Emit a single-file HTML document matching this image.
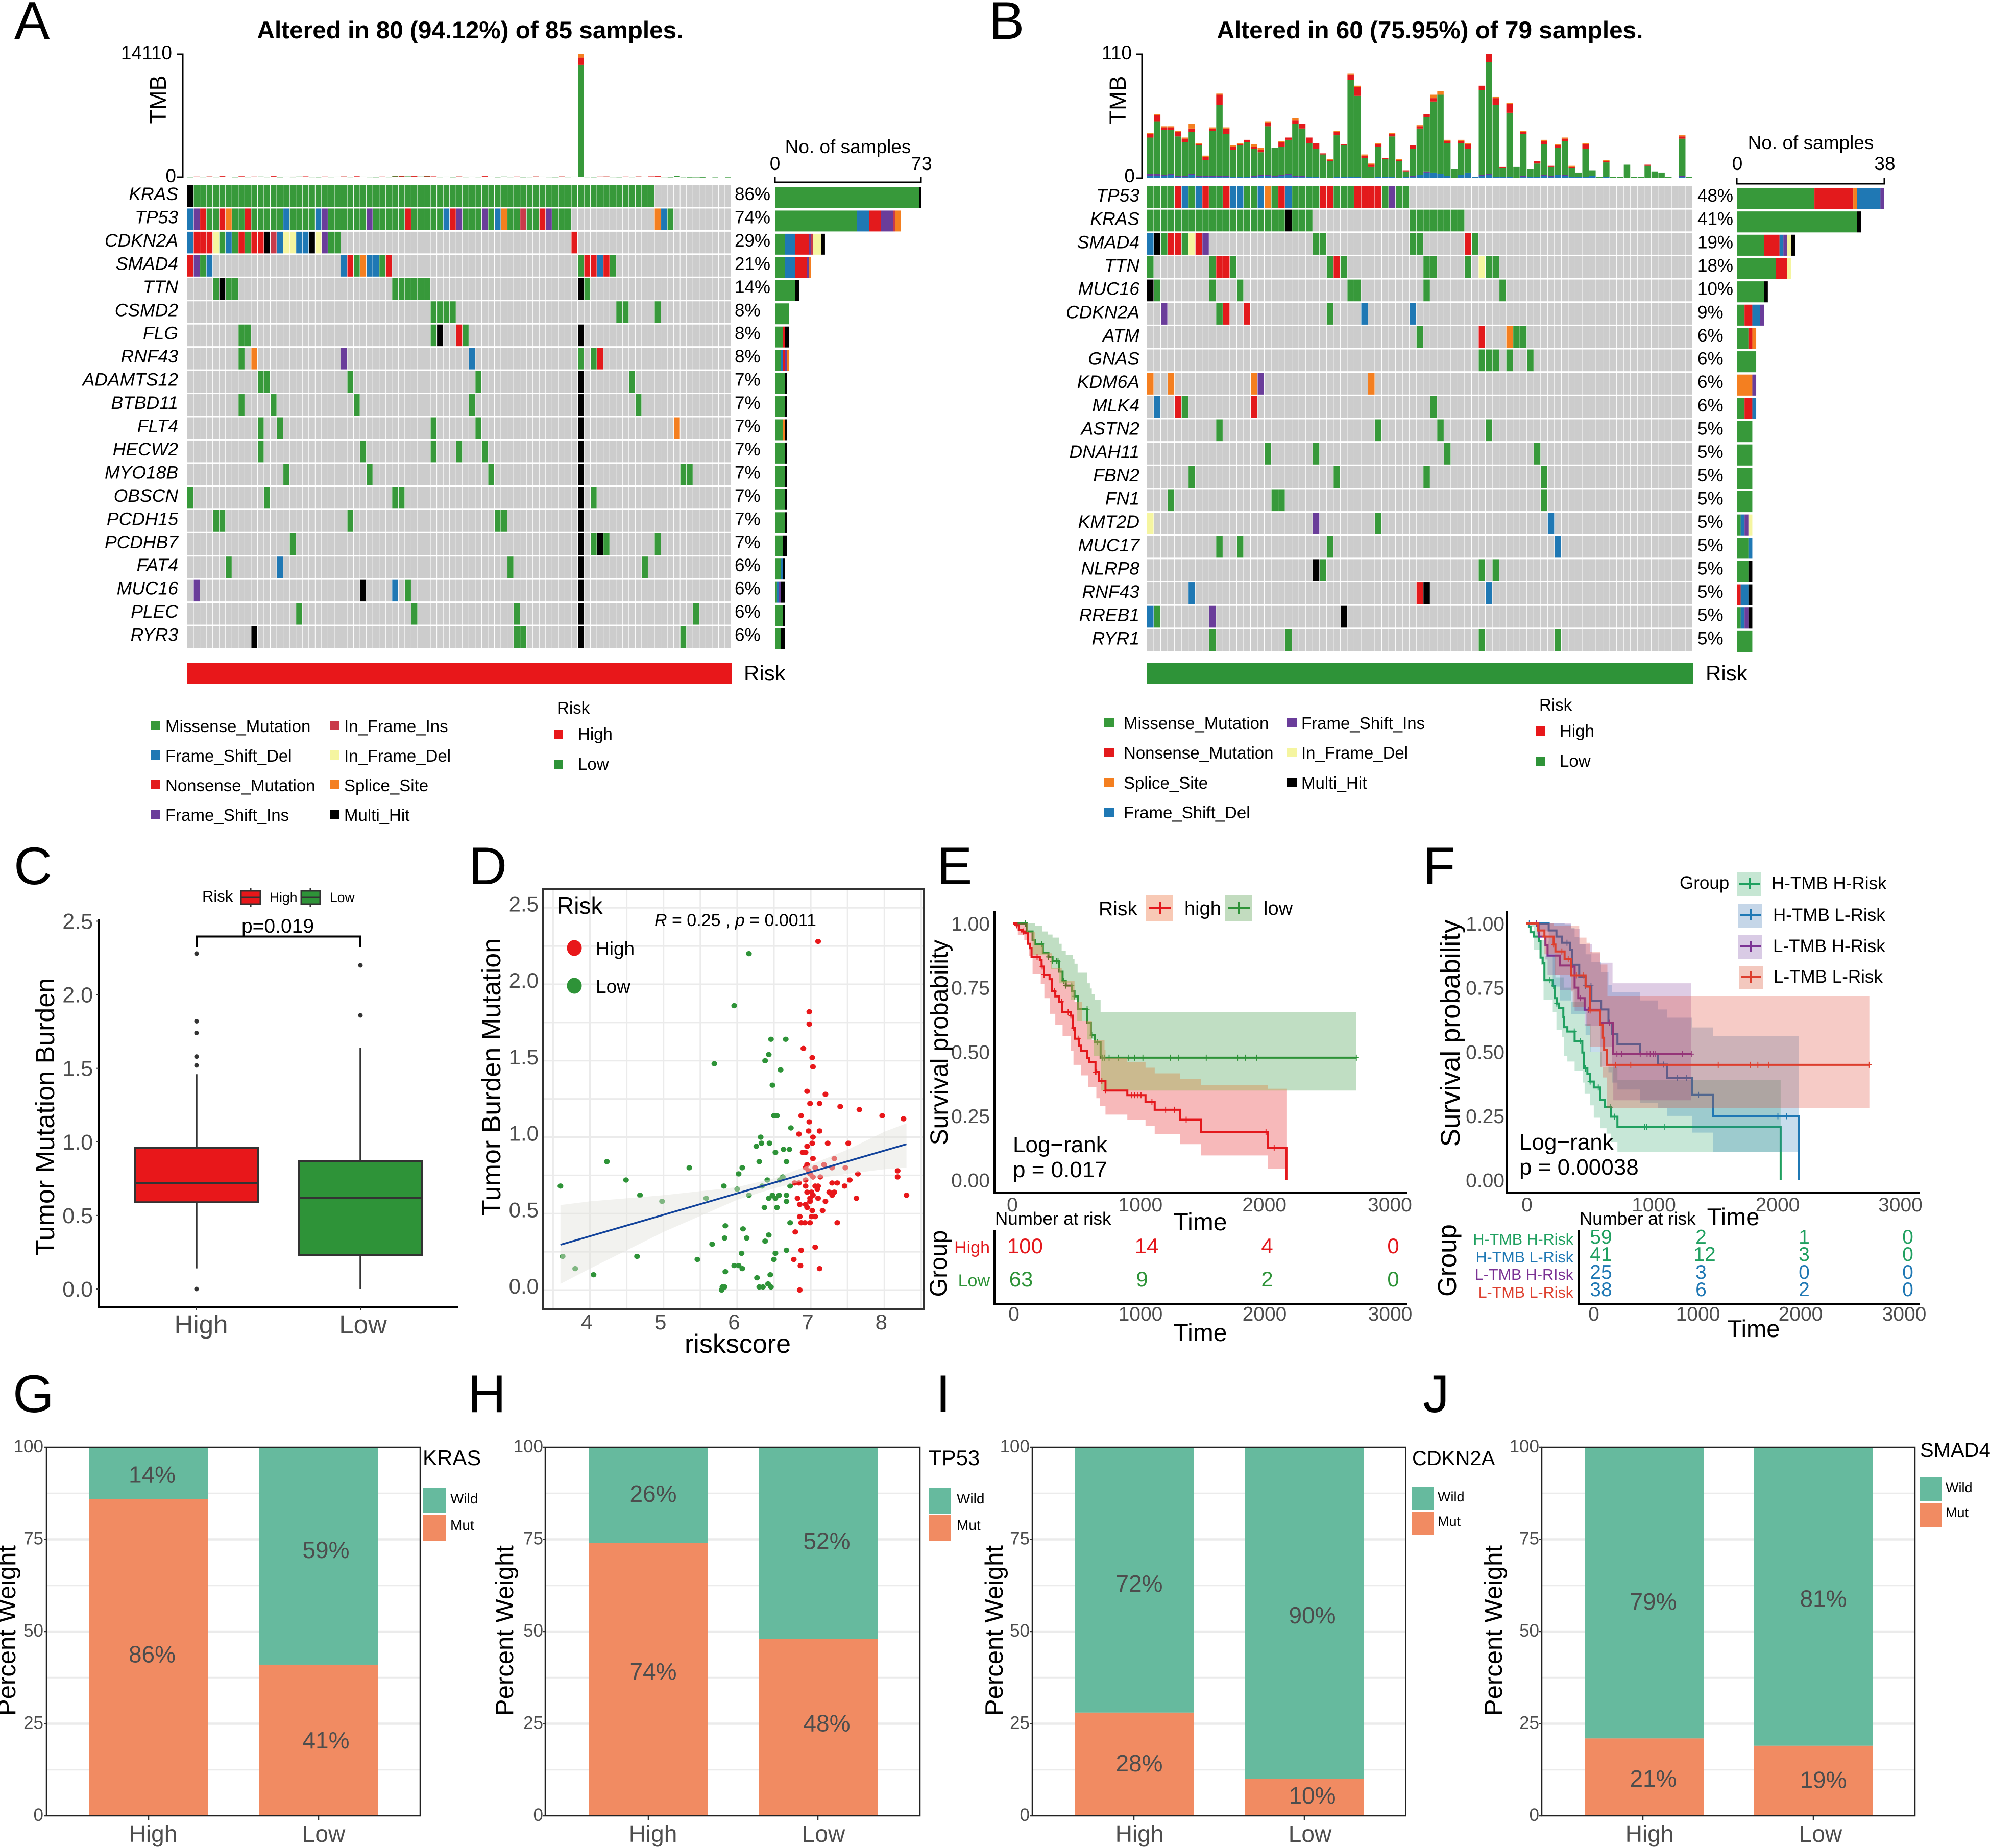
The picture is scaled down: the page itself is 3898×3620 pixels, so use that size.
<!DOCTYPE html>
<html lang="en">
<head>
<meta charset="utf-8">
<title>Mutation landscape, TMB and survival figure</title>
<style>
html,body{margin:0;padding:0;background:#fff}
svg{display:block}
text{font-family:"Liberation Sans",sans-serif;fill:#000}
.letter{font-size:104px}
.title{font-size:47.7px;font-weight:bold;text-anchor:middle}
.s37{font-size:37px}
.s42{font-size:42px}
.s45{font-size:45px}
.leg{font-size:33px}
.tick{fill:#4D4D4D}
.mid{text-anchor:middle}
.end{text-anchor:end}
</style>
</head>
<body>
<svg id="figure" xmlns="http://www.w3.org/2000/svg" width="3898" height="3620" viewBox="0 0 3898 3620">
<rect width="3898" height="3620" fill="#fff"/>

<!-- Panel letters -->
<g>
<text class="letter" x="28" y="76">A</text>
<text class="letter" x="1937" y="76">B</text>
<text class="letter" x="27" y="1732">C</text>
<text class="letter" x="918" y="1732">D</text>
<text class="letter" x="1835" y="1732">E</text>
<text class="letter" x="2787" y="1732">F</text>
<text class="letter" x="25" y="2766">G</text>
<text class="letter" x="916" y="2766">H</text>
<text class="letter" x="1833" y="2766">I</text>
<text class="letter" x="2787" y="2766">J</text>
</g>

<!-- Panel A -->
<g id="panelA">
<text class="title" x="921" y="75">Altered in 80 (94.12%) of 85 samples.</text>
<path d="M346 106H358V347H346" fill="none" stroke="#000" stroke-width="3"/>
<text class="s37 end" x="337" y="116">14110</text>
<text class="s37 end" x="345" y="357">0</text>
<text class="s45 mid" x="325" y="195" transform="rotate(-90 325 195)">TMB</text>
<text class="s37 mid" x="1661" y="300">No. of samples</text>
<text class="s37 mid" x="1518" y="333">0</text>
<text class="s37 mid" x="1805" y="333">73</text>
<path d="M1518 346V357H1804V346" fill="none" stroke="#000" stroke-width="3"/>
<rect x="367" y="1299" width="1066" height="41" fill="#E8171A"/>
<text class="s42" x="1457" y="1333">Risk</text>
<g>
<rect x="295" y="1412" width="18" height="18" fill="#37993A"/><text class="leg" x="324" y="1434">Missense_Mutation</text>
<rect x="295" y="1470" width="18" height="18" fill="#1F78B4"/><text class="leg" x="324" y="1492">Frame_Shift_Del</text>
<rect x="295" y="1528" width="18" height="18" fill="#E31A1C"/><text class="leg" x="324" y="1550">Nonsense_Mutation</text>
<rect x="295" y="1586" width="18" height="18" fill="#6A3D9A"/><text class="leg" x="324" y="1608">Frame_Shift_Ins</text>
<rect x="647" y="1412" width="18" height="18" fill="#C93B4A"/><text class="leg" x="674" y="1434">In_Frame_Ins</text>
<rect x="647" y="1470" width="18" height="18" fill="#F5F5A0"/><text class="leg" x="674" y="1492">In_Frame_Del</text>
<rect x="647" y="1528" width="18" height="18" fill="#F47F20"/><text class="leg" x="674" y="1550">Splice_Site</text>
<rect x="647" y="1586" width="18" height="18" fill="#000"/><text class="leg" x="674" y="1608">Multi_Hit</text>
</g>
<g>
<text class="leg" x="1091" y="1398">Risk</text>
<rect x="1085" y="1429" width="18" height="18" fill="#E8171A"/><text class="leg" x="1132" y="1449">High</text>
<rect x="1085" y="1488" width="18" height="18" fill="#2E9338"/><text class="leg" x="1132" y="1508">Low</text>
</g>
</g>

<!-- Panel B -->
<g id="panelB">
<text class="title" x="2801" y="75">Altered in 60 (75.95%) of 79 samples.</text>
<path d="M2225 106H2237V349H2225" fill="none" stroke="#000" stroke-width="3"/>
<text class="s37 end" x="2217" y="116">110</text>
<text class="s37 end" x="2223" y="357">0</text>
<text class="s45 mid" x="2205" y="196" transform="rotate(-90 2205 196)">TMB</text>
<text class="s37 mid" x="3547" y="292">No. of samples</text>
<text class="s37 mid" x="3403" y="333">0</text>
<text class="s37 mid" x="3692" y="333">38</text>
<path d="M3402 349V360H3691V349" fill="none" stroke="#000" stroke-width="3"/>
<rect x="2247" y="1299" width="1069" height="41" fill="#2E9338"/>
<text class="s42" x="3341" y="1333">Risk</text>
<g>
<rect x="2163" y="1407" width="19" height="18" fill="#37993A"/><text class="leg" x="2201" y="1428">Missense_Mutation</text>
<rect x="2163" y="1465" width="19" height="18" fill="#E31A1C"/><text class="leg" x="2201" y="1486">Nonsense_Mutation</text>
<rect x="2163" y="1524" width="19" height="18" fill="#F47F20"/><text class="leg" x="2201" y="1545">Splice_Site</text>
<rect x="2163" y="1582" width="19" height="18" fill="#1F78B4"/><text class="leg" x="2201" y="1603">Frame_Shift_Del</text>
<rect x="2521" y="1407" width="19" height="18" fill="#6A3D9A"/><text class="leg" x="2549" y="1428">Frame_Shift_Ins</text>
<rect x="2521" y="1465" width="19" height="18" fill="#F5F5A0"/><text class="leg" x="2549" y="1486">In_Frame_Del</text>
<rect x="2521" y="1524" width="19" height="18" fill="#000"/><text class="leg" x="2549" y="1545">Multi_Hit</text>
</g>
<g>
<text class="leg" x="3015" y="1392">Risk</text>
<rect x="3009" y="1423" width="18" height="18" fill="#E8171A"/><text class="leg" x="3055" y="1443">High</text>
<rect x="3009" y="1482" width="18" height="18" fill="#2E9338"/><text class="leg" x="3055" y="1502">Low</text>
</g>
</g>

<!-- Panel C -->
<g id="panelC">
<path d="M193 1801V2560H898" fill="none" stroke="#000" stroke-width="4"/>
<text font-size="52" class="mid" x="106" y="2188" transform="rotate(-90 106 2188)">Tumor Mutation Burden</text>
<text font-size="51" class="tick mid" x="394" y="2612">High</text>
<text font-size="51" class="tick mid" x="711" y="2612">Low</text>
<text font-size="39" class="mid" x="544" y="1827">p=0.019</text>
<path d="M385 1855V1834.5H706V1855" fill="none" stroke="#000" stroke-width="4"/>
<g>
<text font-size="31" x="396" y="1766">Risk</text>
<path d="M491 1739V1776" stroke="#333" stroke-width="3"/>
<rect x="472" y="1745" width="38" height="26" fill="#E8171A" stroke="#333" stroke-width="3"/>
<path d="M472 1758H510" stroke="#333" stroke-width="3"/>
<text font-size="26.5" x="528" y="1767">High</text>
<path d="M608 1739V1776" stroke="#333" stroke-width="3"/>
<rect x="590" y="1745" width="37" height="26" fill="#2E9338" stroke="#333" stroke-width="3"/>
<path d="M590 1758H627" stroke="#333" stroke-width="3"/>
<text font-size="26.5" x="646" y="1767">Low</text>
</g>
<g id="boxMarks"></g>
</g>

<!-- Panel D -->
<g id="panelD">
<g id="scatterGrid"></g>
<g id="scatterMarks"></g>
<rect x="1064" y="1742" width="746" height="823" fill="none" stroke="#333" stroke-width="4"/>
<text font-size="52" class="mid" x="980" y="2110" transform="rotate(-90 980 2110)">Tumor Burden Mutation</text>
<text font-size="52" class="mid" x="1445" y="2650">riskscore</text>
<text font-size="46" x="1091" y="1790">Risk</text>
<ellipse cx="1125" cy="1857" rx="14.5" ry="15.5" fill="#E8171A"/>
<text font-size="37" x="1167" y="1871">High</text>
<ellipse cx="1125" cy="1931" rx="14.5" ry="15.5" fill="#2E9338"/>
<text font-size="37" x="1167" y="1945">Low</text>
<text font-size="34" x="1282" y="1814"><tspan font-style="italic">R</tspan> = 0.25 , <tspan font-style="italic">p</tspan> = 0.0011</text>
</g>

<!-- Panel E -->
<g id="panelE">
<g id="kmE"></g>
<path d="M1948 1785V2337H2757" fill="none" stroke="#000" stroke-width="4"/>
<text font-size="48" class="mid" x="1856" y="2042" transform="rotate(-90 1856 2042)">Survival probability</text>
<text font-size="48" class="mid" x="2351" y="2410">Time</text>
<text font-size="44" x="1984" y="2257">Log−rank</text>
<text font-size="44" x="1984" y="2306">p = 0.017</text>
<g>
<text font-size="39" x="2152" y="1793">Risk</text>
<rect x="2245" y="1753" width="53" height="52" fill="#F8C9B5"/>
<path d="M2250 1778H2294M2272 1766V1790" stroke="#E4181C" stroke-width="4"/>
<text font-size="38" x="2320" y="1792">high</text>
<rect x="2400" y="1753" width="52" height="52" fill="#C2DCBF"/>
<path d="M2405 1778H2449M2427 1766V1790" stroke="#2E9338" stroke-width="4"/>
<text font-size="38" x="2475" y="1792">low</text>
</g>
<g>
<text font-size="35" x="1949" y="2399">Number at risk</text>
<path d="M1948 2410V2554.5H2757" fill="none" stroke="#000" stroke-width="4"/>
<text font-size="47" class="mid" x="1854" y="2475" transform="rotate(-90 1854 2475)">Group</text>
<text font-size="34" class="end" x="1939" y="2455" style="fill:#E4181C">High</text>
<text font-size="34" class="end" x="1939" y="2520" style="fill:#2E9338">Low</text>
<g font-size="42">
<text class="mid" x="2008" y="2455" style="fill:#E4181C">100</text>
<text class="mid" x="2246" y="2455" style="fill:#E4181C">14</text>
<text class="mid" x="2482" y="2455" style="fill:#E4181C">4</text>
<text class="mid" x="2729" y="2455" style="fill:#E4181C">0</text>
<text class="mid" x="2000" y="2520" style="fill:#2E9338">63</text>
<text class="mid" x="2237" y="2520" style="fill:#2E9338">9</text>
<text class="mid" x="2482" y="2520" style="fill:#2E9338">2</text>
<text class="mid" x="2729" y="2520" style="fill:#2E9338">0</text>
</g>
<g font-size="39">
<text class="tick mid" x="1986" y="2587">0</text>
<text class="tick mid" x="2234" y="2587">1000</text>
<text class="tick mid" x="2477" y="2587">2000</text>
<text class="tick mid" x="2723" y="2587">3000</text>
</g>
<text font-size="48" class="mid" x="2351" y="2627">Time</text>
</g>
</g>

<!-- Panel F -->
<g id="panelF">
<g id="kmF"></g>
<path d="M2952 1785V2337H3760" fill="none" stroke="#000" stroke-width="4"/>
<text font-size="53" class="mid" x="2859" y="2024" transform="rotate(-90 2859 2024)">Survival probability</text>
<text font-size="47" class="mid" x="3395" y="2400">Time</text>
<text font-size="44" x="2976" y="2252">Log−rank</text>
<text font-size="44" x="2976" y="2301">p = 0.00038</text>
<g>
<text font-size="35" x="3290" y="1741">Group</text>
<rect x="3402" y="1709" width="48" height="46" fill="#C6E6D3"/>
<path d="M3407 1731H3447M3427 1720V1742" stroke="#20A060" stroke-width="4"/>
<text font-size="35" x="3470" y="1742">H-TMB H-Risk</text>
<rect x="3405" y="1770" width="47" height="47" fill="#C5D6E8"/>
<path d="M3409 1792H3449M3429 1781V1803" stroke="#1F78B4" stroke-width="4"/>
<text font-size="35" x="3473" y="1804">H-TMB L-Risk</text>
<rect x="3405" y="1831" width="47" height="47" fill="#D9CBE5"/>
<path d="M3409 1854H3449M3429 1843V1865" stroke="#7B3294" stroke-width="4"/>
<text font-size="35" x="3473" y="1865">L-TMB H-Risk</text>
<rect x="3406" y="1892" width="47" height="46" fill="#F3C8BE"/>
<path d="M3410 1914H3450M3430 1903V1925" stroke="#DD3F2E" stroke-width="4"/>
<text font-size="35" x="3474" y="1925">L-TMB L-Risk</text>
</g>
<g>
<text font-size="35" x="3094" y="2399">Number at risk</text>
<path d="M3092 2410V2554.5H3760" fill="none" stroke="#000" stroke-width="4"/>
<text font-size="51" class="mid" x="2852" y="2469" transform="rotate(-90 2852 2469)">Group</text>
<text font-size="30.5" class="end" x="3082" y="2438" style="fill:#20A060">H-TMB H-Risk</text>
<text font-size="30.5" class="end" x="3082" y="2473" style="fill:#1F78B4">H-TMB L-Risk</text>
<text font-size="30.5" class="end" x="3082" y="2507" style="fill:#7B3294">L-TMB H-RIsk</text>
<text font-size="30.5" class="end" x="3082" y="2542" style="fill:#DD3F2E">L-TMB L-Risk</text>
<g font-size="39">
<text class="mid" x="3136" y="2436" style="fill:#20A060">59</text>
<text class="mid" x="3332" y="2436" style="fill:#20A060">2</text>
<text class="mid" x="3534" y="2436" style="fill:#20A060">1</text>
<text class="mid" x="3737" y="2436" style="fill:#20A060">0</text>
<text class="mid" x="3136" y="2470" style="fill:#20A060">41</text>
<text class="mid" x="3339" y="2470" style="fill:#20A060">12</text>
<text class="mid" x="3534" y="2470" style="fill:#20A060">3</text>
<text class="mid" x="3737" y="2470" style="fill:#20A060">0</text>
<text class="mid" x="3136" y="2505" style="fill:#1F78B4">25</text>
<text class="mid" x="3332" y="2505" style="fill:#1F78B4">3</text>
<text class="mid" x="3534" y="2505" style="fill:#1F78B4">0</text>
<text class="mid" x="3737" y="2505" style="fill:#1F78B4">0</text>
<text class="mid" x="3136" y="2539" style="fill:#1F78B4">38</text>
<text class="mid" x="3332" y="2539" style="fill:#1F78B4">6</text>
<text class="mid" x="3534" y="2539" style="fill:#1F78B4">2</text>
<text class="mid" x="3737" y="2539" style="fill:#1F78B4">0</text>
</g>
<g font-size="39">
<text class="tick mid" x="3122" y="2587">0</text>
<text class="tick mid" x="3326" y="2587">1000</text>
<text class="tick mid" x="3527" y="2587">2000</text>
<text class="tick mid" x="3730" y="2587">3000</text>
</g>
<text font-size="47" class="mid" x="3435" y="2619">Time</text>
</g>
</g>

<!-- Panels G-J -->
<g id="panelsBars"></g>

<script>
/* ---------- Panel A data ---------- */
const oncoAGenes = ['KRAS','TP53','CDKN2A','SMAD4','TTN','CSMD2','FLG','RNF43','ADAMTS12','BTBD11','FLT4','HECW2','MYO18B','OBSCN','PCDH15','PCDHB7','FAT4','MUC16','PLEC','RYR3'];
const oncoAPercent = [86,74,29,21,14,8,8,8,7,7,7,7,7,7,7,7,6,6,6,6];
const aKRAS = ['H0','M1-72'];
const aTP53 = ['D0','I1','N2','M3-4','N5','S6','M7-8','N9','M10-14','D15','M16-19','D20','I21','M22-27','I28','M29-33','N34','M35-39','D40','N41','I42','M43-45','I46','M47','D48','S49','M50-51','F52','M53-54','N55','I56','M57-59','S73','D74','M75'];
const aCDKN2A = ['D0','N1-3','E4','M5','D6','M7','N8','M9','N10-11','H12','F13','D14','E15-16','D17-18','H19','E20','I21','M22-23','N60'];
const aSMAD4 = ['N0','I1','M2','D3','D24','N25','M26','S27','D28-29','M30','N31','M61','N62-63','D64','N65','M66'];
const aTTN = ['M4','H5','M6-7','M32-37','H61','M62'];
const aCSMD2 = ['M38-41','M67-68','M73'];
const aFLG = ['M8-9','M38','H39','N42','M43','H61'];
const aRNF43 = ['M8','S10','I24','D44','M61','M63','N64'];
const aADAMTS12 = ['M11-12','M25','M45','H61','M69'];
const aBTBD11 = ['M8','M13','M26','M44','H61','M70'];
const aFLT4 = ['M11','M14','M38','M45','H61','S76'];
const aHECW2 = ['M11','M27','M38','M42','M46','H61'];
const aMYO18B = ['M15','M28','M47','H61','M77-78'];
const aOBSCN = ['M0','M12','M32-33','H61','M63'];
const aPCDH15 = ['M4-5','M25','M48-49','H61'];
const aPCDHB7 = ['M16','H61','M63','H64','M65','M73'];
const aFAT4 = ['M6','D14','M50','H61','M71'];
const aMUC16 = ['I1','H27','D32','M34','H61'];
const aPLEC = ['M17','M35','M51','H61','M79'];
const aRYR3 = ['H10','M51-52','H61','M77'];
const oncoARows = [aKRAS,aTP53,aCDKN2A,aSMAD4,aTTN,aCSMD2,aFLG,aRNF43,aADAMTS12,aBTBD11,aFLT4,aHECW2,aMYO18B,aOBSCN,aPCDH15,aPCDHB7,aFAT4,aMUC16,aPLEC,aRYR3];
const tmbAMissense = [40,60,50,70,50,90,60,40,80,50,60,70,50,90,40,60,50,70,80,50,40,60,50,60,70,50,80,60,50,40,60,50,130,110,90,100,70,120,80,50,60,40,70,50,60,50,90,60,40,70,50,60,40,50,70,60,50,40,70,50,60,12887,50,40,60,70,50,40,60,50,70,60,80,90,50,30,120,40,20,30,10,0,30,0,20];
const tmbANonsense = [0,10,0,10,0,20,0,0,20,0,10,0,0,20,0,0,10,0,10,0,0,10,0,0,10,0,20,0,0,0,10,0,30,20,0,10,0,20,10,0,0,0,10,0,0,0,20,0,0,0,0,10,0,0,10,0,0,0,10,0,0,835,0,0,10,10,0,0,10,0,10,0,10,20,0,0,0,0,0,0,0,0,0,0,0];
const tmbASplice = [0,0,0,0,0,0,0,0,0,0,0,0,0,0,0,0,0,0,0,0,0,0,0,0,0,0,0,0,0,0,0,0,0,0,0,0,0,0,0,0,0,0,0,0,0,0,0,0,0,0,0,0,0,0,0,0,0,0,0,0,0,388,0,0,0,0,0,0,0,0,0,0,0,0,0,0,0,0,0,0,0,0,0,0,0];

/* ---------- Panel B data ---------- */
const oncoBGenes = ['TP53','KRAS','SMAD4','TTN','MUC16','CDKN2A','ATM','GNAS','KDM6A','MLK4','ASTN2','DNAH11','FBN2','FN1','KMT2D','MUC17','NLRP8','RNF43','RREB1','RYR1'];
const oncoBPercent = [48,41,19,18,10,9,6,6,6,6,5,5,5,5,5,5,5,5,5,5];
const bTP53 = ['M0-3','N4','D5','M6','D7','N8','M9-10','N11','D12-13','M14-15','D16','S17','M18','N19','D20','M21-24','N25-26','M27-29','N30-33','M34','I35','M36-37'];
const bKRAS = ['M0-19','H20','M21-23','M38-45'];
const bSMAD4 = ['D0','H1','M2','N3-4','M5','E6','N7','I8','M24-25','M38-39','N46','M47'];
const bTTN = ['M0','M9','N10-11','M12','M26','N27','M28','M40-41','M46','E48','M49-50'];
const bMUC16 = ['H0','M1','M9','M13','M29-30','M40','M51'];
const bCDKN2A = ['I2','M10','N11','N14','M26','D31','D38'];
const bATM = ['M39','N48','S52','M53-54'];
const bGNAS = ['M48-50','M52','M55'];
const bKDM6A = ['S0','S3','S15','I16','S32'];
const bMLK4 = ['D1','N4','M5','N15','M41'];
const bASTN2 = ['M10','M33','M42','M49'];
const bDNAH11 = ['M17','M24','M43','M56'];
const bFBN2 = ['M6','M27','M40','M57'];
const bFN1 = ['M3','M18-19','M57'];
const bKMT2D = ['E0','I24','M33','D58'];
const bMUC17 = ['M10','M13','M26','D59'];
const bNLRP8 = ['H24','M25','M48','M50'];
const bRNF43 = ['D6','N39','H40','D49'];
const bRREB1 = ['D0','M1','I9','H28'];
const bRYR1 = ['M9','M20','M48','M59'];
const oncoBRows = [bTP53,bKRAS,bSMAD4,bTTN,bMUC16,bCDKN2A,bATM,bGNAS,bKDM6A,bMLK4,bASTN2,bDNAH11,bFBN2,bFN1,bKMT2D,bMUC17,bNLRP8,bRNF43,bRREB1,bRYR1];
const tmbBDel = [2,2,2,3,1,1,3,1,1,1,1,1,1,1,1,1,2,2,1,2,3,1,1,1,1,0,0,1,1,1,1,0,0,1,1,1,0,1,1,3,5,5,4,2,0,3,5,1,2,3,1,1,1,0,1,1,1,2,1,3,2,1,1,1,2,0,1,0,0,0,0,0,0,0,0,0,0,1,0];
const tmbBIns = [2,2,1,1,1,1,1,1,1,1,1,1,0,0,0,1,1,1,1,1,1,1,1,0,0,0,0,0,0,0,0,0,0,0,0,0,0,0,1,0,1,0,0,0,0,0,0,0,1,1,0,0,0,0,1,0,0,1,1,0,1,0,0,0,0,0,0,0,0,0,0,0,0,0,0,0,0,1,0];
const tmbBMissense = [32,46,40,39,35,30,37,27,14,40,63,37,24,28,31,24,20,43,25,25,30,46,42,30,25,21,15,37,28,86,72,18,10,27,16,36,15,5,24,41,48,63,70,29,8,28,21,0,75,99,64,8,57,10,37,7,12,27,8,24,30,8,4,25,5,1,13,1,1,12,1,1,11,6,5,1,0,33,1];
const tmbBNonsense = [3,6,2,2,4,3,3,1,3,2,9,5,3,1,2,2,2,3,0,4,2,3,4,5,5,1,1,3,1,5,8,2,2,2,1,2,1,1,3,2,3,3,0,2,0,2,4,0,4,7,6,1,8,0,2,0,2,3,1,2,2,1,0,4,0,0,1,0,0,0,0,0,1,0,0,0,0,2,0];
const tmbBSplice = [1,1,1,1,1,1,4,1,1,1,1,1,1,1,0,2,2,1,0,1,0,2,0,0,0,0,1,1,0,1,1,1,1,1,0,1,1,0,0,1,0,3,3,1,0,1,1,0,0,0,1,0,1,0,1,0,0,1,0,1,1,1,0,1,0,0,1,0,0,0,0,0,0,0,0,0,0,1,0];

/* ---------- Panel C data ---------- */
const boxCategories = ['High','Low'];
const boxQ1 = [0.59,0.23];
const boxMedian = [0.72,0.62];
const boxQ3 = [0.96,0.87];
const boxWhiskerLow = [0.14,0.0];
const boxWhiskerHigh = [1.46,1.64];
const boxOutliersHigh = [2.28,1.82,1.74,1.58,1.52,0.0];
const boxOutliersLow = [2.20,1.86];
const boxTicks = ['0.0','0.5','1.0','1.5','2.0','2.5'];

/* ---------- Panel D data ---------- */
const scatterLowX = [3.60,3.63,3.80,4.05,4.23,4.49,4.64,4.68,4.98,5.35,5.46,5.58,5.69,5.66,5.82,5.84,5.83,5.84,5.79,5.80,5.83,5.96,5.96,6.02,6.00,6.02,6.07,6.08,6.13,6.06,6.07,6.16,6.16,6.26,6.33,6.32,6.30,6.34,6.27,6.30,6.35,6.38,6.37,6.42,6.45,6.43,6.46,6.43,6.41,6.44,6.46,6.43,6.38,6.59,6.48,6.66,6.50,6.54,6.73,6.52,6.63,6.71,6.67,6.62,6.58,6.72,6.48,6.52,6.57,6.67,6.67,6.54,6.72,6.67,6.52,6.50];
const scatterLowY = [.68,.22,.14,.10,.84,.72,.22,.62,.58,.80,.20,.60,1.48,.30,.68,.42,.34,.12,0,.02,.02,1.86,.16,.16,.66,.76,.80,.40,.34,.24,.14,2.20,.62,.94,.96,1.00,.84,.68,.08,.02,.02,.32,.54,.04,.10,.36,.02,.60,.72,.96,1.64,1.54,1.50,1.44,1.34,1.64,1.14,1.14,1.06,.90,.92,.92,.84,.74,.72,.68,.62,.60,.62,.62,.58,.54,.44,.26,.24,.20];
const scatterHighX = [7.10,6.98,6.98,6.90,7.02,7.03,6.95,7.20,6.99,7.12,7.40,7.66,6.87,7.97,8.26,6.98,6.97,7.12,6.84,7.03,7.02,7.23,7.51,6.95,6.89,6.93,7.03,7.32,7.18,6.95,6.93,7.06,7.29,7.47,8.18,6.97,6.99,7.64,7.03,7.13,8.18,7.53,6.93,6.78,6.84,7.29,7.36,6.93,7.06,7.10,7.46,7.09,6.95,7.01,7.25,7.32,7.03,7.29,8.30,6.82,6.99,7.10,7.62,6.99,7.20,6.85,6.93,6.95,7.02,7.16,6.85,7.01,7.06,6.87,6.92,6.99,7.36,6.79,7.06,6.87,6.77,6.86,7.12,6.85];
const scatterHighY = [2.28,1.82,1.74,1.58,1.52,1.46,1.30,1.28,1.22,1.22,1.20,1.18,1.14,1.14,1.12,1.10,1.04,1.04,1.02,1.00,.96,.96,.96,.94,.90,.90,.86,.86,.82,.82,.80,.80,.80,.80,.78,.78,.76,.76,.74,.74,.74,.72,.72,.70,.70,.70,.70,.68,.68,.68,.68,.66,.64,.64,.64,.64,.62,.62,.62,.60,.60,.60,.60,.58,.58,.56,.56,.54,.52,.52,.48,.48,.48,.44,.44,.44,.44,.38,.28,.26,.20,.16,.14,0];
const regressionX = [3.6,8.3];
const regressionY = [0.296,0.954];
const ciX = [3.6,4,5,6,6.5,7,7.5,8,8.3];
const ciUpper = [.556,.58,.62,.673,.73,.82,.918,1.035,1.09];
const ciLower = [.04,.14,.38,.59,.665,.725,.76,.79,.80];
const scatterXTicks = ['4','5','6','7','8'];
const scatterYTicks = ['0.0','0.5','1.0','1.5','2.0','2.5'];

/* ---------- Panel E data ---------- */
const kmEHighT = [0,26,43,65,94,116,131,145,211,225,244,288,305,334,363,390,458,472,491,523,540,588,603,654,683,734,908,1053,1126,1330,1497,2027,2176];
const kmEHighS = [1,.993,.976,.969,.962,.921,.904,.870,.858,.832,.801,.783,.736,.716,.695,.654,.641,.593,.551,.524,.503,.476,.459,.421,.387,.349,.331,.305,.274,.235,.187,.125,0];
const kmEHighCensor = [26,80,189,230,244,327,385,436,458,480,516,654,664,705,734,944,966,988,1017,1104,1213,1283,1377,2013,2078];
const kmELowT = [0,109,153,174,235,279,312,366,392,418,468,487,516,589,618,651,695,2733];
const kmELowS = [1,.969,.935,.92,.886,.87,.853,.812,.777,.758,.736,.716,.666,.613,.565,.538,.477,.477];
const kmELowCensor = [94,225,279,312,342,356,400,418,465,487,588,625,668,712,727,763,836,915,966,1032,1252,1318,1537,1787,1848,1937,2733];
const ciEHighUpT = [0,116,174,240,305,385,487,545,625,726,734,908,1053,1126,1330,1497,2027,2176];
const ciEHighUp = [1,.966,.916,.884,.826,.777,.695,.62,.545,.507,.476,.459,.438,.416,.394,.370,.356,.356];
const ciEHighLoT = [0,36,87,124,153,218,247,291,334,392,458,479,538,596,661,690,734,908,1053,1126,1330,1497,2027,2176];
const ciEHighLo = [1,.956,.935,.873,.805,.764,.709,.648,.606,.562,.503,.449,.408,.363,.319,.288,.255,.236,.211,.18,.14,.096,.043,.043];
const ciELowUpT = [0,109,174,230,273,312,363,385,418,472,487,512,588,610,625,650,695,2733];
const ciELowUp = [1,1,.99,.969,.957,.945,.921,.894,.877,.861,.843,.808,.767,.747,.724,.702,.654,.654];
const ciELowLoT = [0,109,153,298,363,458,509,588,639,697,2733];
const ciELowLo = [1,.962,.877,.822,.767,.702,.62,.548,.483,.349,.347];
const kmYTicks = ['0.00','0.25','0.50','0.75','1.00'];
const kmXTicks = ['0','1000','2000','3000'];

/* ---------- Panel F data ---------- */
const kmFHHT = [0,24,36,61,104,116,133,147,213,230,245,263,297,303,329,387,448,462,488,510,539,589,628,676,727,2024];
const kmFHHS = [1,.986,.966,.949,.932,.867,.846,.779,.757,.709,.688,.671,.634,.596,.579,.541,.497,.435,.414,.384,.361,.312,.284,.247,.207,0];
const kmFHHCensor = [191,220,245,384,430,474,510,575,669,705,945,959,1104];
const kmFHLT = [0,181,242,285,350,365,423,474,520,597,655,684,727,908,1050,1123,1321,1488,2169];
const kmFHLS = [1,.973,.949,.925,.897,.839,.791,.757,.699,.665,.613,.569,.53,.491,.45,.399,.332,.249,0];
const kmFHLCensor = [27,82,326,372,474,517,597,665,698,1094,1205,1274,1372,2002,2072];
const kmFLHT = [0,100,104,155,172,271,358,387,415,466,589,691,1314];
const kmFLHS = [1,.962,.949,.916,.875,.836,.832,.75,.709,.664,.613,.491,.491];
const kmFLHCensor = [82,430,495,665,723,759,908,963,988,1013,1031,1244,1314];
const kmFLLT = [0,97,147,220,234,307,358,474,510,589,611,621,643,2729];
const kmFLLS = [1,.973,.949,.918,.891,.861,.798,.754,.661,.606,.555,.507,.449,.449];
const kmFLLCensor = [147,220,285,336,401,459,510,713,833,1528,1782,1843,1927,2729];
const ciFHHUpT = [0,111,155,234,300,358,466,514,604,727,2024];
const ciFHHUp = [1,.935,.873,.79,.75,.695,.61,.50,.44,.39,.39];
const ciFHHLoT = [0,27,64,119,140,213,242,285,303,329,387,452,466,510,539,589,640,676,727,2024];
const ciFHHLo = [1,.988,.897,.839,.702,.654,.586,.558,.483,.462,.425,.38,.336,.291,.243,.202,.181,.147,.109,.109];
const ciFHLUpT = [0,181,307,358,387,423,474,520,597,655,684,908,1050,1123,1321,1488,2169];
const ciFHLUp = [1,1,.997,.983,.948,.92,.88,.85,.81,.76,.733,.70,.665,.633,.595,.562,.562];
const ciFHLLoT = [0,97,181,176,213,271,358,474,510,589,655,684,727,908,1050,1123,1321,1488,2169];
const ciFHLLo = [1,.97,.93,.873,.754,.70,.647,.565,.50,.442,.42,.38,.353,.30,.281,.25,.185,.11,.11];
const ciFLHUpT = [0,358,430,524,589,688,1314];
const ciFLHUp = [1,.98,.92,.884,.847,.767,.767];
const ciFLHLoT = [0,104,155,172,271,387,466,589,684,694,1314];
const ciFLHLo = [1,.95,.86,.80,.74,.66,.60,.52,.45,.311,.311];
const ciFLLUpT = [0,220,423,481,510,589,647,2729];
const ciFLLUp = [1,.99,.945,.925,.89,.84,.716,.716];
const ciFLLLoT = [0,97,147,227,358,372,481,510,589,611,643,2729];
const ciFLLLo = [1,.95,.88,.80,.735,.675,.60,.52,.44,.40,.28,.28];

/* ---------- Panels G-J data ---------- */
const barGenes = ['KRAS','TP53','CDKN2A','SMAD4'];
const barHighMut = [86,74,28,21];
const barLowMut = [41,48,10,19];
const barCategories = ['High','Low'];
const barSeriesNames = ['Wild','Mut'];
const barYTicks = ['0','25','50','75','100'];

/* ---------- Helpers ---------- */
const NS = 'http://www.w3.org/2000/svg';
const MUT_COLORS = {M:'#37993A',D:'#1F78B4',N:'#E31A1C',I:'#6A3D9A',F:'#C93B4A',E:'#F5F5A0',S:'#F47F20',H:'#000000'};
function mk(tag, attrs, parent) {
  const el = document.createElementNS(NS, tag);
  for (const k in attrs) el.setAttribute(k, attrs[k]);
  parent.appendChild(el);
  return el;
}
function expandRow(row) {
  const out = {};
  row.forEach(function (tok) {
    const type = tok[0];
    const parts = tok.slice(1).split('-').map(Number);
    const end = parts.length > 1 ? parts[1] : parts[0];
    for (let i = parts[0]; i <= end; i++) out[i] = type;
  });
  return out;
}

/* ---------- Oncoplots ---------- */
function drawOnco(panel, genes, percents, rows, frame, order) {
  const parent = document.getElementById(panel);
  const w = (frame.right - frame.left) / frame.n;
  const gg = mk('g', {}, parent);
  
  
  const gb = mk('g', {}, parent);
  
  
  genes.forEach(function (gene, r) {
    const top = frame.top + r * frame.pitch;
    const cells = expandRow(rows[r]);
    for (let i = 0; i < frame.n; i++) {
      const cell = mk('rect', {x: (frame.left + i * w).toFixed(2), y: top.toFixed(2), width: (w - 1).toFixed(2), height: (frame.pitch - 3).toFixed(2), fill: cells[i] ? MUT_COLORS[cells[i]] : '#CCCCCC'}, gg);
      
      
    }
    const label = mk('text', {x: frame.geneX, y: (top + frame.textDy).toFixed(1), 'text-anchor': 'end', 'font-size': 35.5, 'font-style': 'italic'}, parent);
    label.textContent = gene;
    
    
    const pct = mk('text', {x: frame.pctX, y: (top + frame.textDy).toFixed(1), 'font-size': 35}, parent);
    pct.textContent = percents[r] + '%';
    
    
    const counts = {};
    Object.keys(cells).forEach(function (k) { counts[cells[k]] = (counts[cells[k]] || 0) + 1; });
    let bx = frame.barLeft;
    order.forEach(function (t) {
      if (!counts[t]) return;
      const bw = counts[t] * frame.barUnit;
      const seg = mk('rect', {x: bx.toFixed(2), y: (top + frame.barDy).toFixed(2), width: bw.toFixed(2), height: (frame.pitch - 4.5).toFixed(2), fill: MUT_COLORS[t]}, gb);
      
      
      bx += bw;
    });
  });
}
function drawTmb(panel, left, right, n, y0, yMax, maxVal, series) {
  const parent = document.getElementById(panel);
  const g = mk('g', {}, parent);
  
  
  const w = (right - left) / n;
  const scale = (y0 - yMax) / maxVal;
  for (let i = 0; i < n; i++) {
    let base = 0;
    series.forEach(function (s) {
      const v = s.values[i];
      if (!v) return;
      const seg = mk('rect', {x: (left + i * w).toFixed(2), y: (y0 - (base + v) * scale).toFixed(2), width: (w - 1).toFixed(2), height: Math.max(v * scale, 1).toFixed(2), fill: s.color}, g);
      
      
      base += v;
    });
  }
}
drawTmb('panelA', 367, 1433, 85, 347, 106, 14110, [
  {values: tmbAMissense, color: MUT_COLORS.M},
  {values: tmbANonsense, color: MUT_COLORS.N},
  {values: tmbASplice, color: MUT_COLORS.S}
]);
drawTmb('panelB', 2247, 3316, 79, 349, 106, 110, [
  {values: tmbBDel, color: MUT_COLORS.D},
  {values: tmbBIns, color: MUT_COLORS.I},
  {values: tmbBMissense, color: MUT_COLORS.M},
  {values: tmbBNonsense, color: MUT_COLORS.N},
  {values: tmbBSplice, color: MUT_COLORS.S}
]);
drawOnco('panelA', oncoAGenes, oncoAPercent, oncoARows,
  {n: 85, left: 367, right: 1433, top: 363, pitch: 45.45, geneX: 349, pctX: 1439, textDy: 29, barLeft: 1518, barUnit: 286 / 73, barDy: 4},
  ['M','D','N','I','F','E','S','H']);
drawOnco('panelB', oncoBGenes, oncoBPercent, oncoBRows,
  {n: 79, left: 2247, right: 3316, top: 365, pitch: 45.65, geneX: 2232, pctX: 3325, textDy: 30, barLeft: 3402, barUnit: 289 / 38, barDy: 3.5},
  ['M','N','S','D','I','E','H']);

/* ---------- Boxplot ---------- */
(function () {
  const g = document.getElementById('boxMarks');
  const yC = function (v) { return 2525 - 288.2 * v; };
  const xC = function (i) { return 385 + 321 * i; };
  const halfW = 120.5;
  const fills = ['#E8171A', '#2E9338'];
  const outliers = [boxOutliersHigh, boxOutliersLow];
  boxTicks.forEach(function (t) {
    const v = parseFloat(t);
    const lab = mk('text', {x: 182, y: (yC(v) + 15).toFixed(1), 'text-anchor': 'end', 'font-size': 43, style: 'fill:#4D4D4D'}, g);
    lab.textContent = t;
    
    
    const tick = mk('line', {x1: 188, x2: 193, y1: yC(v), y2: yC(v), stroke: '#333', 'stroke-width': 2}, g);
    
    
  });
  boxCategories.forEach(function (cat, i) {
    const cx = xC(i);
    const tick = mk('line', {x1: cx, x2: cx, y1: 2560, y2: 2566, stroke: '#333', 'stroke-width': 2}, g);
    
    
    const whisk = mk('line', {x1: cx, x2: cx, y1: yC(boxWhiskerLow[i]), y2: yC(boxWhiskerHigh[i]), stroke: '#333', 'stroke-width': 3.5}, g);
    
    
    const box = mk('rect', {x: cx - halfW, y: yC(boxQ3[i]), width: halfW * 2, height: yC(boxQ1[i]) - yC(boxQ3[i]), fill: fills[i], stroke: '#333', 'stroke-width': 3.5}, g);
    
    
    const med = mk('line', {x1: cx - halfW, x2: cx + halfW, y1: yC(boxMedian[i]), y2: yC(boxMedian[i]), stroke: '#333', 'stroke-width': 3.5}, g);
    
    
    outliers[i].forEach(function (o) {
      const dot = mk('circle', {cx: cx, cy: yC(o), r: 4.5, fill: '#333'}, g);
      
      
    });
  });
})();

/* ---------- Scatter ---------- */
(function () {
  const grid = document.getElementById('scatterGrid');
  const g = document.getElementById('scatterMarks');
  const xS = function (v) { return 1155.5 + (v - 4) * 144.2; };
  const yS = function (v) { return 2527 - 299.5 * v; };
  for (let v = 3.5; v <= 8.5; v += 0.5) {
    const gl = mk('line', {x1: xS(v), x2: xS(v), y1: 1742, y2: 2565, stroke: '#EBEBEB', 'stroke-width': 3}, grid);
    
    
  }
  for (let v = 0; v <= 2.5; v += 0.25) {
    const gl = mk('line', {x1: 1064, x2: 1810, y1: yS(v), y2: yS(v), stroke: '#EBEBEB', 'stroke-width': 3}, grid);
    
    
  }
  scatterXTicks.forEach(function (t) {
    const lab = mk('text', {x: xS(parseFloat(t)) - 6, y: 2604, 'text-anchor': 'middle', 'font-size': 42, style: 'fill:#4D4D4D'}, grid);
    lab.textContent = t;
    
    
  });
  scatterYTicks.forEach(function (t) {
    const lab = mk('text', {x: 1055, y: yS(parseFloat(t)) + 7, 'text-anchor': 'end', 'font-size': 42, style: 'fill:#4D4D4D'}, grid);
    lab.textContent = t;
    
    
  });
  scatterHighX.forEach(function (x, i) {
    const p = mk('ellipse', {cx: xS(x).toFixed(1), cy: yS(scatterHighY[i]).toFixed(1), rx: 5.6, ry: 5.2, fill: '#E8171A'}, g);
    
    
  });
  scatterLowX.forEach(function (x, i) {
    const p = mk('ellipse', {cx: xS(x).toFixed(1), cy: yS(scatterLowY[i]).toFixed(1), rx: 5.6, ry: 5.2, fill: '#2E9338'}, g);
    
    
  });
  let pts = [];
  ciX.forEach(function (x, i) { pts.push(xS(x).toFixed(1) + ',' + yS(ciUpper[i]).toFixed(1)); });
  for (let i = ciX.length - 1; i >= 0; i--) pts.push(xS(ciX[i]).toFixed(1) + ',' + yS(ciLower[i]).toFixed(1));
  const band = mk('polygon', {points: pts.join(' '), fill: '#E2E2DC', opacity: 0.45}, g);
  
  
  const line = mk('line', {x1: xS(regressionX[0]), y1: yS(regressionY[0]), x2: xS(regressionX[1]), y2: yS(regressionY[1]), stroke: '#12439B', 'stroke-width': 3.5}, g);
  
  
})();

/* ---------- Kaplan-Meier ---------- */
function stepPathD(T, S, x, y) {
  let d = 'M' + x(T[0]).toFixed(1) + ' ' + y(S[0]).toFixed(1);
  for (let i = 1; i < T.length; i++) d += 'H' + x(T[i]).toFixed(1) + 'V' + y(S[i]).toFixed(1);
  return d;
}
function bandPathD(TU, U, TL, L, x, y) {
  let d = stepPathD(TU, U, x, y);
  const n = TL.length - 1;
  d += 'V' + y(L[n]).toFixed(1);
  for (let i = n; i > 0; i--) d += 'H' + x(TL[i]).toFixed(1) + 'V' + y(L[i - 1]).toFixed(1);
  return d + 'H' + x(TL[0]).toFixed(1) + 'Z';
}
function survivalAt(T, S, t) {
  let s = S[0];
  for (let i = 0; i < T.length; i++) { if (T[i] <= t) s = S[i]; }
  return s;
}
function drawKmBand(g, c, x, y) {
  const band = mk('path', {d: bandPathD(c.upT, c.up, c.loT, c.lo, x, y), fill: c.color, 'fill-opacity': c.alpha}, g);
  
  
}
function drawKmLine(g, c, x, y) {
  const line = mk('path', {d: stepPathD(c.T, c.S, x, y), fill: 'none', stroke: c.color, 'stroke-width': 4}, g);
  
  
  c.censor.forEach(function (t) {
    const cx = x(t), cy = y(survivalAt(c.T, c.S, t));
    const m = mk('path', {d: 'M' + (cx - 5).toFixed(1) + ' ' + cy.toFixed(1) + 'h10M' + cx.toFixed(1) + ' ' + (cy - 6).toFixed(1) + 'v12', stroke: c.color, 'stroke-width': 1.8, fill: 'none'}, g);
    
    
  });
}
function drawKmTicks(g, x, y, labelRight, xLabelPos) {
  kmYTicks.forEach(function (t) {
    const lab = mk('text', {x: labelRight, y: (y(parseFloat(t)) + 14).toFixed(1), 'text-anchor': 'end', 'font-size': 39, style: 'fill:#4D4D4D'}, g);
    lab.textContent = t;
    
    
  });
  kmXTicks.forEach(function (t, i) {
    const lab = mk('text', {x: x(parseFloat(t)) + xLabelPos[i], y: 2373, 'text-anchor': 'middle', 'font-size': 39, style: 'fill:#4D4D4D'}, g);
    lab.textContent = t;
    
    
  });
}
(function () {
  const g = document.getElementById('kmE');
  const x = function (t) { return 1985 + 0.2458 * t; };
  const y = function (s) { return 2311.6 - 502.6 * s; };
  const low = {T: kmELowT, S: kmELowS, censor: kmELowCensor, upT: ciELowUpT, up: ciELowUp, loT: ciELowLoT, lo: ciELowLo, color: '#2E9338', alpha: 0.3};
  const high = {T: kmEHighT, S: kmEHighS, censor: kmEHighCensor, upT: ciEHighUpT, up: ciEHighUp, loT: ciEHighLoT, lo: ciEHighLo, color: '#E4181C', alpha: 0.3};
  drawKmBand(g, low, x, y);
  drawKmLine(g, low, x, y);
  drawKmBand(g, high, x, y);
  const clip = mk('clipPath', {id: 'highBandClip'}, g);
  const clipShape = mk('path', {d: bandPathD(high.upT, high.up, high.loT, high.lo, x, y)}, clip);
  
  
  const overlap = mk('path', {d: bandPathD(low.upT, low.up, low.loT, low.lo, x, y), fill: '#CBFF90', 'fill-opacity': 0.26, 'clip-path': 'url(#highBandClip)'}, g);
  
  
  drawKmLine(g, high, x, y);
  drawKmTicks(g, x, y, 1939, [-2, 3, 0, 0]);
})();
(function () {
  const g = document.getElementById('kmF');
  const x = function (t) { return 2989 + 0.2465 * t; };
  const y = function (s) { return 2311.6 - 502.6 * s; };
  const curves = [
    {T: kmFHHT, S: kmFHHS, censor: kmFHHCensor, upT: ciFHHUpT, up: ciFHHUp, loT: ciFHHLoT, lo: ciFHHLo, color: '#20A060', alpha: 0.25},
    {T: kmFHLT, S: kmFHLS, censor: kmFHLCensor, upT: ciFHLUpT, up: ciFHLUp, loT: ciFHLLoT, lo: ciFHLLo, color: '#1F78B4', alpha: 0.25},
    {T: kmFLHT, S: kmFLHS, censor: kmFLHCensor, upT: ciFLHUpT, up: ciFLHUp, loT: ciFLHLoT, lo: ciFLHLo, color: '#7B3294', alpha: 0.25},
    {T: kmFLLT, S: kmFLLS, censor: kmFLLCensor, upT: ciFLLUpT, up: ciFLLUp, loT: ciFLLLoT, lo: ciFLLLo, color: '#DD3F2E', alpha: 0.27}
  ];
  curves.forEach(function (c) {
    drawKmBand(g, c, x, y);
    drawKmLine(g, c, x, y);
  });
  drawKmTicks(g, x, y, 2947, [2, 4, 0, -6]);
})();

/* ---------- Stacked percent bars ---------- */
(function () {
  const root = document.getElementById('panelsBars');
  const layouts = [
    {left: 91, right: 823, bars: [174.5, 507], barW: 233, ticks: [291, 624], labX: [300, 634], dx: [7, 15], nudge: [19, 10, 4, 16], titleX: 30, tickRight: 85, keyX: 828, keyW: 45, keyY: [2914, 2968], keyH: 50, keyTextX: 882, keyTextY: [2945, 2997], keySize: 28, nameY: 2870, nameSize: 42},
    {left: 1068, right: 1802, bars: [1154, 1486], barW: 233, ticks: [1270, 1602], labX: [1279, 1613], dx: [9, 17], nudge: [13, 0, 12, 8], titleX: 1005, tickRight: 1064, keyX: 1819, keyW: 44, keyY: [2915, 2968], keyH: 50, keyTextX: 1874, keyTextY: [2945, 2997], keySize: 28, nameY: 2870, nameSize: 42},
    {left: 2022, right: 2753.5, bars: [2106, 2439], barW: 233, ticks: [2221, 2555], labX: [2232, 2566], dx: [9, 15], nudge: [23, 14, 20, 12], titleX: 1964, tickRight: 2017, keyX: 2766, keyW: 42, keyY: [2912, 2961], keyH: 46, keyTextX: 2816, keyTextY: [2941, 2989], keySize: 27, nameY: 2870, nameSize: 40},
    {left: 3020, right: 3751, bars: [3104, 3436], barW: 233, ticks: [3218, 3552], labX: [3231, 3566], dx: [18, 19], nudge: [33, 19, 20, 14], titleX: 2942, tickRight: 3015, keyX: 3761, keyW: 42, keyY: [2894, 2944], keyH: 47, keyTextX: 3811, keyTextY: [2923, 2972], keySize: 27, nameY: 2854, nameSize: 40}
  ];
  const yB = function (v) { return 3557 - 7.22 * v; };
  const WILD = '#66BA9E', MUT = '#F18B62';
  barGenes.forEach(function (gene, p) {
    const L = layouts[p];
    const g = mk('g', {}, root);
    
    
    for (let v = 12.5; v < 100; v += 12.5) {
      const major = v % 25 === 0;
      const gl = mk('line', {x1: L.left, x2: L.right, y1: yB(v), y2: yB(v), stroke: '#EBEBEB', 'stroke-width': major ? 4.5 : 3}, g);
      
      
    }
    const values = [barHighMut[p], barLowMut[p]];
    barCategories.forEach(function (cat, c) {
      const mut = values[c];
      const split = yB(mut);
      const wild = mk('rect', {x: L.bars[c], y: yB(100), width: L.barW, height: split - yB(100), fill: WILD}, g);
      
      
      const m = mk('rect', {x: L.bars[c], y: split, width: L.barW, height: yB(0) - split, fill: MUT}, g);
      
      
      const cx = L.bars[c] + L.barW / 2 + L.dx[c];
      const wl = mk('text', {x: cx, y: ((yB(100) + split) / 2 + L.nudge[c * 2]).toFixed(1), 'text-anchor': 'middle', 'font-size': 46, style: 'fill:#4D4D4D'}, g);
      wl.textContent = (100 - mut) + '%';
      
      
      const ml = mk('text', {x: cx, y: ((yB(0) + split) / 2 + L.nudge[c * 2 + 1]).toFixed(1), 'text-anchor': 'middle', 'font-size': 46, style: 'fill:#4D4D4D'}, g);
      ml.textContent = mut + '%';
      
      
      const tick = mk('line', {x1: L.ticks[c], x2: L.ticks[c], y1: 3557, y2: 3565, stroke: '#333', 'stroke-width': 2.5}, g);
      
      
      const cl = mk('text', {x: L.labX[c], y: 3608, 'text-anchor': 'middle', 'font-size': 46, style: 'fill:#4D4D4D'}, g);
      cl.textContent = cat;
      
      
    });
    const frame = mk('rect', {x: L.left, y: 2835, width: L.right - L.left, height: 722, fill: 'none', stroke: '#222', 'stroke-width': 2.5}, g);
    
    
    barYTicks.forEach(function (t) {
      const v = parseFloat(t);
      const lab = mk('text', {x: L.tickRight, y: (yB(v) + 10).toFixed(1), 'text-anchor': 'end', 'font-size': 35, style: 'fill:#4D4D4D'}, g);
      lab.textContent = t;
      
      
      const tick = mk('line', {x1: L.left - 5, x2: L.left, y1: yB(v), y2: yB(v), stroke: '#333', 'stroke-width': 2.5}, g);
      
      
    });
    const yt = mk('text', {x: L.titleX, y: 3194, 'text-anchor': 'middle', 'font-size': 49, transform: 'rotate(-90 ' + L.titleX + ' 3194)'}, g);
    yt.textContent = 'Percent Weight';
    
    
    const name = mk('text', {x: L.keyX, y: L.nameY, 'font-size': L.nameSize}, g);
    name.textContent = gene;
    
    
    barSeriesNames.forEach(function (s, k) {
      const sw = mk('rect', {x: L.keyX, y: L.keyY[k], width: L.keyW, height: L.keyH, fill: k === 0 ? WILD : MUT}, g);
      
      
      const st = mk('text', {x: L.keyTextX, y: L.keyTextY[k], 'font-size': L.keySize}, g);
      st.textContent = s;
      
      
    });
  });
})();
</script>
</svg>
</body>
</html>
